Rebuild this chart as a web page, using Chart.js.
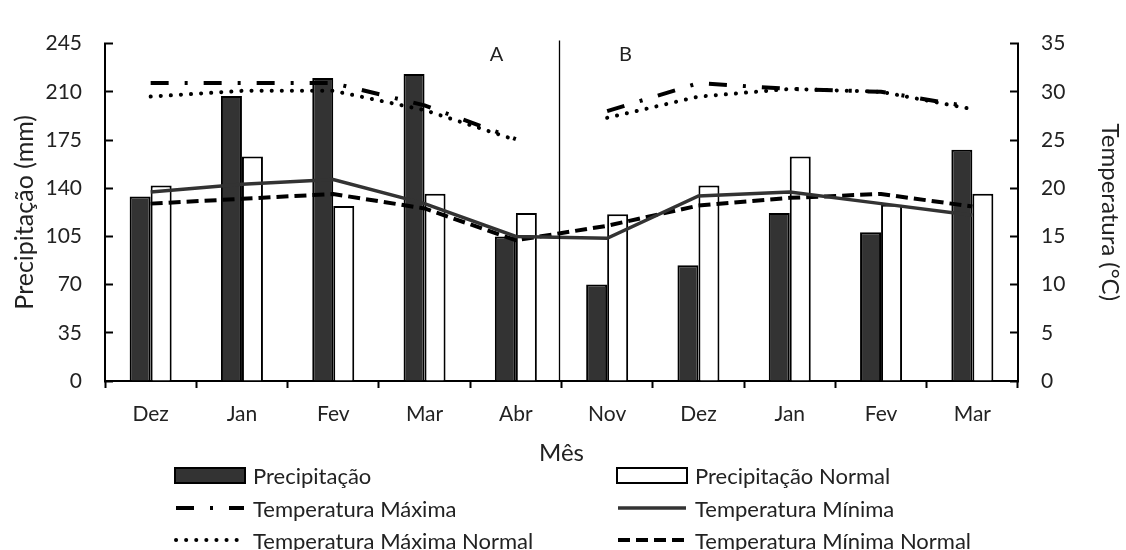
<!DOCTYPE html>
<html lang="pt">
<head>
<meta charset="UTF-8">
<title>Precipitação e Temperatura</title>
<script src="https://cdn.jsdelivr.net/npm/chart.js@4.4.1/dist/chart.umd.min.js"></script>
<style>
  body { margin: 0; background: #fff; font-family: Lato, sans-serif; }
  #wrap { position: relative; width: 1126px; height: 550px; }
  #legenda { position: absolute; left: 0; top: 0; width: 1126px; height: 550px; pointer-events: none; }
  .item { position: absolute; display: flex; align-items: center; height: 30px; font-size: 22px; color: #222; white-space: nowrap; }
  .item svg { margin-right: 7px; }
</style>
</head>
<body>
<div id="wrap">
  <canvas id="grafico" width="1126" height="550"></canvas>
  <div id="legenda"></div>
</div>
<script>
// meses: período A (Dez-Abr) e período B (Nov-Mar)
const meses = ['Dez', 'Jan', 'Fev', 'Mar', 'Abr', 'Nov', 'Dez', 'Jan', 'Fev', 'Mar'];
const rotulosPeriodo = ['A', 'B'];

// precipitação (mm) - eixo esquerdo
const precipitacao = [134, 207, 220, 223, 105, 70, 84, 122, 108, 168];
const precipNormal = [142, 163, 127, 136, 122, 121, 142, 163, 128, 136];

// temperatura (°C) - eixo direito
const tempMax = [30.9, 30.9, 30.9, 28.6, 25.1, 28.0, 30.9, 30.3, 30.0, 28.4];
const tempMaxNormal = [29.5, 30.1, 30.1, 28.1, 25.0, 27.3, 29.5, 30.3, 30.0, 28.2];
const tempMin = [19.6, 20.4, 20.9, 18.4, 15.0, 14.8, 19.2, 19.6, 18.4, 17.2];
const tempMinNormal = [18.4, 18.9, 19.4, 17.9, 14.6, 16.1, 18.2, 19.0, 19.4, 18.1];

const ticksEsq = [0, 245, 35];
const ticksDir = [0, 35, 5];

Chart.defaults.font.family = 'Lato, sans-serif';
Chart.defaults.color = '#222';

// linha entre Abr e Nov não é desenhada nas séries de máxima
const quebra = ctx => ctx.p0DataIndex === 4 ? 'rgba(0,0,0,0)' : undefined;

const divisoria = {
  id: 'divisoria',
  afterDatasetsDraw(chart) {
    const { ctx, chartArea, scales: { x } } = chart;
    const xm = (x.getPixelForValue(4) + x.getPixelForValue(5)) / 2 - 2;
    ctx.save();
    ctx.strokeStyle = '#000';
    ctx.lineWidth = 1.3;
    ctx.beginPath();
    ctx.moveTo(xm, chartArea.top - 3);
    ctx.lineTo(xm, chartArea.bottom);
    ctx.stroke();
    ctx.fillStyle = '#222';
    ctx.font = '20px Lato, sans-serif';
    ctx.textAlign = 'center';
    ctx.textBaseline = 'middle';
    ctx.fillText(rotulosPeriodo[0], xm - 63, chartArea.top + 11);
    ctx.fillText(rotulosPeriodo[1], xm + 66, chartArea.top + 11);
    ctx.restore();
  }
};

const grafico = new Chart(document.getElementById('grafico'), {
  type: 'bar',
  data: {
    labels: meses,
    datasets: [
      {
        label: 'Precipitação', data: precipitacao, yAxisID: 'y', order: 2,
        backgroundColor: '#333', borderColor: '#000', borderWidth: 2,
        categoryPercentage: 0.46, barPercentage: 1
      },
      {
        label: 'Precipitação Normal', data: precipNormal, yAxisID: 'y', order: 2,
        backgroundColor: '#fff', borderColor: '#000', borderWidth: 2,
        categoryPercentage: 0.46, barPercentage: 1
      },
      {
        type: 'line', label: 'Temperatura Máxima', data: tempMax, yAxisID: 'y2', order: 1,
        borderColor: '#000', borderWidth: 4, borderDash: [18, 16, 3, 16],
        pointRadius: 0, tension: 0, fill: false,
        segment: { borderColor: quebra }
      },
      {
        type: 'line', label: 'Temperatura Mínima', data: tempMin, yAxisID: 'y2', order: 1,
        borderColor: '#333', borderWidth: 3.5,
        pointRadius: 0, tension: 0, fill: false
      },
      {
        type: 'line', label: 'Temperatura Máxima Normal', data: tempMaxNormal, yAxisID: 'y2', order: 1,
        borderColor: '#000', borderWidth: 4, borderDash: [0.1, 10], borderCapStyle: 'round',
        pointRadius: 0, tension: 0, fill: false,
        segment: { borderColor: quebra }
      },
      {
        type: 'line', label: 'Temperatura Mínima Normal', data: tempMinNormal, yAxisID: 'y2', order: 1,
        borderColor: '#000', borderWidth: 4, borderDash: [12, 6],
        pointRadius: 0, tension: 0, fill: false
      }
    ]
  },
  options: {
    responsive: false,
    animation: false,
    devicePixelRatio: 1,
    layout: { padding: { left: 6, right: 0, top: 24, bottom: 80 } },
    plugins: { legend: { display: false }, tooltip: { enabled: false } },
    scales: {
      x: {
        offset: true,
        grid: { offset: true, drawOnChartArea: false, tickLength: 7, tickColor: '#000', tickWidth: 2 },
        border: { color: '#000', width: 2 },
        ticks: { padding: 14, font: { size: 21 }, autoSkip: false, maxRotation: 0 },
        title: { display: true, text: 'Mês', font: { size: 24 }, padding: { top: 4, bottom: 2 } },
        afterFit(s) { s.height = 89; }
      },
      y: {
        position: 'left', min: ticksEsq[0], max: ticksEsq[1],
        ticks: { stepSize: ticksEsq[2], padding: 31, font: { size: 21 } },
        grid: { drawOnChartArea: false, tickLength: -8, tickColor: '#000', tickWidth: 2 },
        border: { color: '#000', width: 2 },
        title: { display: true, text: 'Precipitação (mm)', font: { size: 25 }, padding: { top: 4, bottom: 4 } },
        afterFit(s) { s.width = 99; }
      },
      y2: {
        position: 'right', min: ticksDir[0], max: ticksDir[1],
        ticks: { stepSize: ticksDir[2], padding: 31, font: { size: 21 } },
        grid: { drawOnChartArea: false, tickLength: -8, tickColor: '#000', tickWidth: 2 },
        border: { color: '#000', width: 2 },
        title: { display: true, text: 'Temperatura (°C)', font: { size: 24 }, padding: { top: 2, bottom: 2 } },
        afterFit(s) { s.width = 108; }
      }
    }
  },
  plugins: [divisoria]
});

// legenda em duas colunas, montada a partir dos datasets
const colX = [174, 616];
const linhaY = [475, 508, 540];
const legenda = document.getElementById('legenda');
grafico.data.datasets.forEach((ds, i) => {
  const item = document.createElement('div');
  item.className = 'item';
  item.style.left = colX[i % 2] + 'px';
  item.style.top = (linhaY[Math.floor(i / 2)] - 15) + 'px';
  let svg;
  if (ds.type === 'line') {
    const dash = ds.borderDash ? ds.borderDash.join(' ') : 'none';
    svg = `<svg width="72" height="18"><line x1="2" y1="9" x2="70" y2="9" stroke="${ds.borderColor}"
      stroke-width="${ds.borderWidth}" stroke-dasharray="${dash}" stroke-linecap="${ds.borderCapStyle || 'butt'}"/></svg>`;
  } else {
    svg = `<svg width="72" height="18"><rect x="1" y="2" width="70" height="15" fill="${ds.backgroundColor}"
      stroke="${ds.borderColor}" stroke-width="2"/></svg>`;
  }
  item.innerHTML = svg + '<span>' + ds.label + '</span>';
  legenda.appendChild(item);
});
</script>
</body>
</html>
